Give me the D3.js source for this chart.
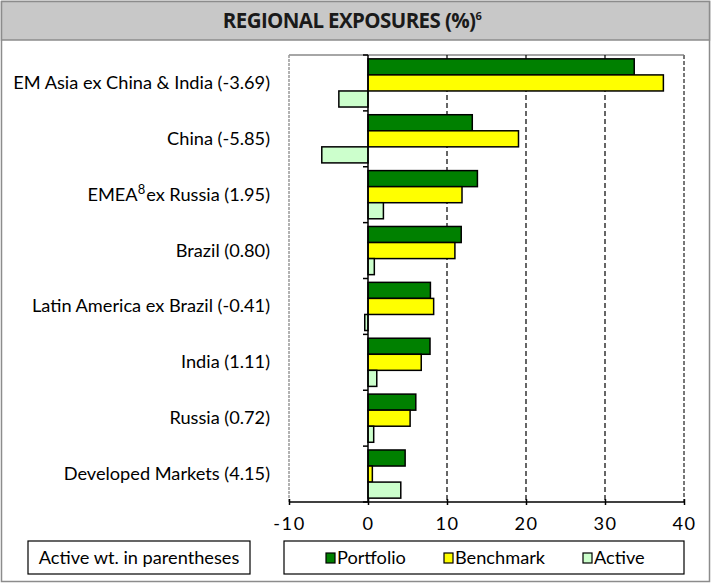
<!DOCTYPE html>
<html><head><meta charset="utf-8">
<script src="https://cdn.jsdelivr.net/npm/d3@7"></script>
<style>body{margin:0;background:#fff}svg{display:block}</style>
</head><body>
<svg id="c" width="712" height="584"></svg>
<script>
const categories = ["EM Asia ex China & India (-3.69)", "China (-5.85)", "EMEA|8|ex Russia (1.95)", "Brazil (0.80)", "Latin America ex Brazil (-0.41)", "India (1.11)", "Russia (0.72)", "Developed Markets (4.15)"];
const seriesNames = ["Portfolio", "Benchmark", "Active"];
const portfolio = [33.7, 13.2, 13.85, 11.8, 7.9, 7.85, 6.05, 4.7];
const benchmark = [37.39, 19.05, 11.9, 11.0, 8.31, 6.74, 5.33, 0.55];
const active = [-3.69, -5.85, 1.95, 0.80, -0.41, 1.11, 0.72, 4.15];
const xTicks = [-10, 0, 10, 20, 30, 40];
const colors = ["#008000", "#ffff00", "#ccffcc"];

const svg = d3.select("#c");
const font = "Lato, 'Noto Sans', sans-serif";
const fs = 18.2;
// outer frame
svg.append("rect").attr("x",1.5).attr("y",1.5).attr("width",708).attr("height",580)
  .attr("fill","#fff").attr("stroke","#8c8c8c").attr("stroke-width",1.5);
svg.append("rect").attr("x",1.5).attr("y",1.5).attr("width",708).attr("height",38.5)
  .attr("fill","#c8c8c8").attr("stroke","#8c8c8c").attr("stroke-width",1.5);
const tt = svg.append("text").attr("x",352).attr("y",28).attr("text-anchor","middle")
  .attr("font-family","'Open Sans', sans-serif").attr("font-weight","bold").attr("font-size",20.5)
  .attr("fill","#1a1a1a").attr("letter-spacing","-0.6");
tt.append("tspan").text("REGIONAL EXPOSURES (%)");
tt.append("tspan").attr("font-size",11).attr("dy",-8).text("6");

const L = 289, R = 684, T = 55, B = 502;
const x = d3.scaleLinear().domain([-10, 40]).range([L, R]);
const y = d3.scaleBand().domain(d3.range(categories.length)).range([T, B]);
const ys = d3.scaleBand().domain(seriesNames).range([0, y.bandwidth()]).paddingOuter(0.24);

// plot border
const g = svg.append("g");
g.append("line").attr("x1",L).attr("x2",R).attr("y1",T).attr("y2",T).attr("stroke","#888").attr("stroke-width",1.5);
g.append("line").attr("x1",L).attr("x2",L).attr("y1",T).attr("y2",B).attr("stroke","#999").attr("stroke-width",1.5).attr("stroke-dasharray","3,1");
// gridlines
xTicks.filter(d => d > 0).forEach(d => {
  g.append("line").attr("x1",x(d)).attr("x2",x(d)).attr("y1",T).attr("y2",B)
    .attr("stroke", d === 40 ? "#777" : "#000").attr("stroke-width", d === 40 ? 2 : 1.2)
    .attr("stroke-dasharray", d === 40 ? "4,2" : "5,3");
});

// bars
const series = [portfolio, benchmark, active];
series.forEach((vals, si) => {
  g.selectAll(null).data(vals).enter().append("rect")
    .attr("x", d => x(Math.min(0, d)))
    .attr("width", d => Math.abs(x(d) - x(0)))
    .attr("y", (d, i) => y(i) + ys(seriesNames[si]))
    .attr("height", ys.bandwidth())
    .attr("fill", colors[si]).attr("stroke", "#000").attr("stroke-width", 1.5);
});

// category axis at 0
g.append("line").attr("x1",x(0)).attr("x2",x(0)).attr("y1",T).attr("y2",B).attr("stroke","#000").attr("stroke-width",1.5);
d3.range(categories.length + 1).forEach(i => {
  const yy = T + i * y.step();
  g.append("line").attr("x1",x(0)-5).attr("x2",x(0)).attr("y1",yy).attr("y2",yy).attr("stroke","#000").attr("stroke-width",1.5);
});

// x axis
const xa = svg.append("g").attr("transform", `translate(0,${B})`)
  .call(d3.axisBottom(x).tickValues(xTicks).tickSize(4));
xa.select(".domain").attr("stroke","#000").attr("stroke-width",1.5).attr("d", `M${L},0H${R}`);
xa.selectAll(".tick line").attr("stroke","#000").attr("stroke-width",1.5).attr("y1",-3).attr("y2",3);
xa.selectAll(".tick text").attr("font-family",font).attr("font-size",fs).attr("fill","#000").attr("y",15).attr("dy","0.71em")
  .text(d => d < 0 ? "-" + Math.abs(d) : d).attr("letter-spacing", "1.5");

// category labels
categories.forEach((c, i) => {
  const t = svg.append("text").attr("x", 270).attr("y", y(i) + y.bandwidth()/2 + 6)
    .attr("text-anchor","end").attr("font-family",font).attr("font-size",fs).attr("fill","#000");
  const parts = c.split("|");
  if (parts.length === 3) {
    t.append("tspan").text(parts[0]);
    t.append("tspan").attr("font-size",13).attr("dy",-7).text(parts[1]);
    t.append("tspan").attr("dy",7).attr("dx",1).text(parts[2]);
  } else t.text(c);
});

// note box
svg.append("rect").attr("x",28).attr("y",541).attr("width",222).attr("height",33).attr("fill","#fff").attr("stroke","#000").attr("stroke-width",1.2);
svg.append("text").attr("x",139).attr("y",564).attr("text-anchor","middle").attr("font-family",font).attr("font-size",fs).text("Active wt. in parentheses");

// legend box
svg.append("rect").attr("x",284).attr("y",541).attr("width",400).attr("height",33).attr("fill","#fff").attr("stroke","#000").attr("stroke-width",1.2);
const legX = [326, 444, 583];
seriesNames.forEach((s, i) => {
  svg.append("rect").attr("x",legX[i]).attr("y",553).attr("width",9).attr("height",10)
    .attr("fill",colors[i]).attr("stroke","#000").attr("stroke-width",1.2);
  svg.append("text").attr("x",legX[i]+11).attr("y",564).attr("font-family",font).attr("font-size",fs).text(s);
});
</script>
</body></html>
